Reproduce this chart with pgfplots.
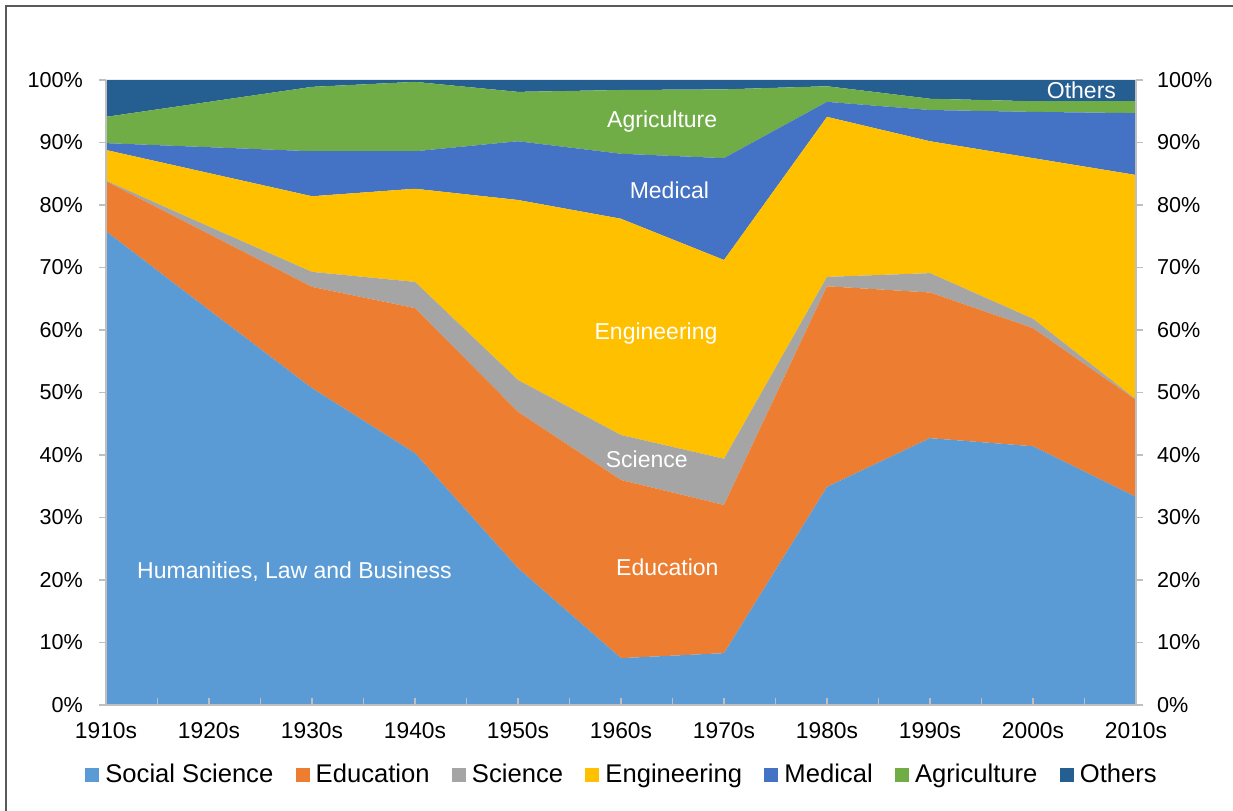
\documentclass[border=0pt]{standalone}
\usepackage{pgfplots}
\pgfplotsset{compat=1.18}
\usepackage{pgfplotstable}
\usepackage{fontspec}
\setmainfont{Liberation Sans}
\definecolor{cSS}{HTML}{5B9BD5}
\definecolor{cEd}{HTML}{ED7D31}
\definecolor{cSci}{HTML}{A5A5A5}
\definecolor{cEng}{HTML}{FFC000}
\definecolor{cMed}{HTML}{4472C4}
\definecolor{cAgr}{HTML}{70AD47}
\definecolor{cOth}{HTML}{255E91}
\definecolor{axgray}{HTML}{BFBFBF}
\tikzset{lbl/.style={text=white, font=\fontsize{11.5}{13}\selectfont}}
\pgfplotstableread{
x SS Ed Sci Eng Med Agr Oth
0 75.8 8.0 0.1 4.9 1.1 4.2 5.9
1 63.2 12.15 1.2 8.55 4.15 7.25 3.5
2 50.7 16.2 2.4 12.1 7.2 10.3 1.1
3 40.3 23.2 4.2 14.9 6.0 11.1 0.3
4 21.9 25.0 5.1 28.8 9.4 7.9 1.9
5 7.5 28.5 7.2 34.6 10.4 10.2 1.6
6 8.3 23.7 7.4 31.8 16.3 11.0 1.5
7 34.9 32.1 1.5 25.6 2.4 2.5 1.0
8 42.7 23.3 3.1 21.1 5.0 1.8 3.0
9 41.4 18.9 1.5 25.7 7.4 1.7 3.4
10 33.3 15.5 0.1 35.9 9.9 1.9 3.4
}\datatable
\begin{document}
\begin{tikzpicture}
\useasboundingbox (-53pt,-52.5pt) rectangle (563.5pt,352.5pt);
\draw[color=black!65, line width=0.6pt] (-50pt,-60pt) -- (-50pt,349.5pt) -- (570pt,349.5pt);
\begin{axis}[
  at={(0pt,0pt)}, anchor=south west,
  width=515pt, height=312.5pt, scale only axis,
  xmin=0, xmax=10, ymin=0, ymax=100,
  stack plots=y, area style,
  axis on top=true,
  axis x line*=bottom, axis y line*=left,
  axis line style={draw=axgray, line width=0.8pt},
  xtick={0,...,10},
  xticklabels={1910s,1920s,1930s,1940s,1950s,1960s,1970s,1980s,1990s,2000s,2010s},
  minor x tick num=1,
  x tick style={draw=axgray, line width=0.8pt},
  xtick align=inside,
  major tick length=3.5pt, minor tick length=3.5pt,
  ytick={0,10,...,100},
  yticklabel={\pgfmathprintnumber{\tick}\%},
  y tick style={draw=axgray, line width=0.8pt},
  ytick align=outside,
  yticklabel style={xshift=-4.5pt, font=\fontsize{10.8}{12}\selectfont, text=black},
  xticklabel style={yshift=-5.5pt, font=\fontsize{11.4}{13}\selectfont, text=black},
  /pgf/number format/assume math mode=true,
  legend columns=-1,
  legend style={at={(0.502,-0.112)}, anchor=center, draw=none, fill=none,
    font=\fontsize{12.8}{15}\selectfont, /tikz/every even column/.append style={column sep=9.2pt},
    /tikz/every odd column/.append style={column sep=1pt}},
  legend image code/.code={\fill[#1] (0pt,-3.5pt) rectangle (7pt,3.5pt);},
]
\addplot[fill=cSS, draw=none] table[x=x,y=SS]{\datatable} \closedcycle;
\addlegendentry{Social Science}
\addplot[fill=cEd, draw=none] table[x=x,y=Ed]{\datatable} \closedcycle;
\addlegendentry{Education}
\addplot[fill=cSci, draw=none] table[x=x,y=Sci]{\datatable} \closedcycle;
\addlegendentry{Science}
\addplot[fill=cEng, draw=none] table[x=x,y=Eng]{\datatable} \closedcycle;
\addlegendentry{Engineering}
\addplot[fill=cMed, draw=none] table[x=x,y=Med]{\datatable} \closedcycle;
\addlegendentry{Medical}
\addplot[fill=cAgr, draw=none] table[x=x,y=Agr]{\datatable} \closedcycle;
\addlegendentry{Agriculture}
\addplot[fill=cOth, draw=none] table[x=x,y=Oth]{\datatable} \closedcycle;
\addlegendentry{Others}
\end{axis}
\begin{axis}[
  at={(0pt,0pt)}, anchor=south west,
  width=515pt, height=312.5pt, scale only axis,
  xmin=0, xmax=10, ymin=0, ymax=100,
  axis x line=none, axis y line*=right,
  axis line style={draw=axgray, line width=0.8pt},
  ytick={0,10,...,100},
  yticklabel={\pgfmathprintnumber{\tick}\%},
  y tick style={draw=axgray, line width=0.8pt},
  ytick align=outside, major tick length=3.5pt,
  yticklabel style={xshift=3.5pt, font=\fontsize{10.8}{12}\selectfont, text=black},
  /pgf/number format/assume math mode=true,
]
\addplot[draw=none] coordinates {(0,0)};
\node[lbl] at (axis cs:1.83,21.3) {Humanities, Law and Business};
\node[lbl] at (axis cs:5.45,22.0) {Education};
\node[lbl] at (axis cs:5.25,39.3) {Science};
\node[lbl] at (axis cs:5.34,59.4) {Engineering};
\node[lbl] at (axis cs:5.47,82.4) {Medical};
\node[lbl] at (axis cs:5.40,93.3) {Agriculture};
\node[lbl] at (axis cs:9.47,98.4) {Others};
\end{axis}
\end{tikzpicture}
\end{document}
